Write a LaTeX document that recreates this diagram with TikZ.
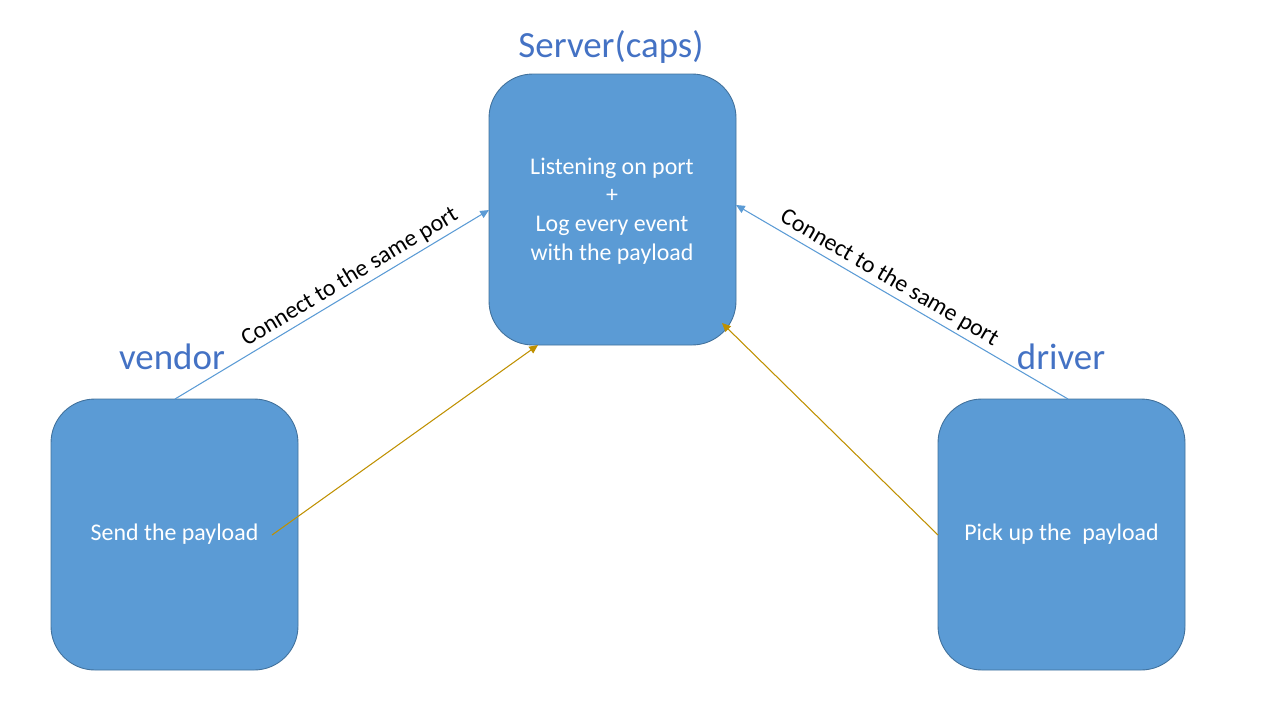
\documentclass[tikz,border=0pt]{standalone}
\usepackage{fontspec}
\setmainfont{Carlito}
\usetikzlibrary{arrows.meta}
\definecolor{boxfill}{HTML}{5B9BD5}
\definecolor{boxline}{HTML}{41719C}
\definecolor{titleblue}{HTML}{4472C4}
\definecolor{gold}{HTML}{BF9000}
\tikzset{
  card/.style={draw=boxline, line width=0.5pt, fill=boxfill, rounded corners=25pt,
    minimum width=247*0.02cm, minimum height=271*0.02cm, text=white,
    font=\fontsize{13.6}{16.4}\selectfont, align=center, inner sep=0pt},
  title/.style={text=titleblue, font=\fontsize{21}{24}\selectfont, inner sep=0pt},
  conn/.style={draw=boxfill, line width=0.6pt, -{Triangle[length=5pt,width=4.5pt]}},
  gline/.style={draw=gold, line width=0.6pt, -{Triangle[length=5pt,width=4.5pt]}},
  elabel/.style={font=\fontsize{13.6}{15}\selectfont, text=black, inner sep=2pt}
}
\begin{document}
\begin{tikzpicture}[x=0.02cm,y=-0.02cm]
\useasboundingbox (0,0) rectangle (1280,720);
\node[card] (server) at (612.5,209.5) {};
\node[text=white, font=\fontsize{13.6}{16.4}\selectfont, align=center, inner sep=0pt] (stext) at (612,211) {Listening on port\\+\\Log every event\\with the payload};
\node[card] (vendor) at (174.5,534.5) {Send the payload};
\node[card] (driver) at (1061.5,534.5) {Pick up the\ \ payload};
\node[title] (tserver) at (611,47) {Server(caps)};
\node[title] (tvendor) at (172,357) {vendor};
\node[title] (tdriver) at (1061,357) {driver};
\coordinate (vtop) at (175,399);
\coordinate (dtop) at (1068,399);
\coordinate (sl) at (489,210);
\coordinate (sr) at (736,205);
\coordinate (vr) at (272,535);
\coordinate (dl) at (938,535);
\coordinate (sb1) at (538,345);
\coordinate (sb2) at (722,323);
\draw[conn] (vtop) -- node[elabel, pos=0.58, above, sloped] {Connect to the same port} (sl);
\draw[conn] (dtop) -- node[elabel, pos=0.56, above, sloped] {Connect to the same port} (sr);
\draw[gline] (vr) -- (sb1);
\draw[gline] (dl) -- (sb2);
\end{tikzpicture}
\end{document}
